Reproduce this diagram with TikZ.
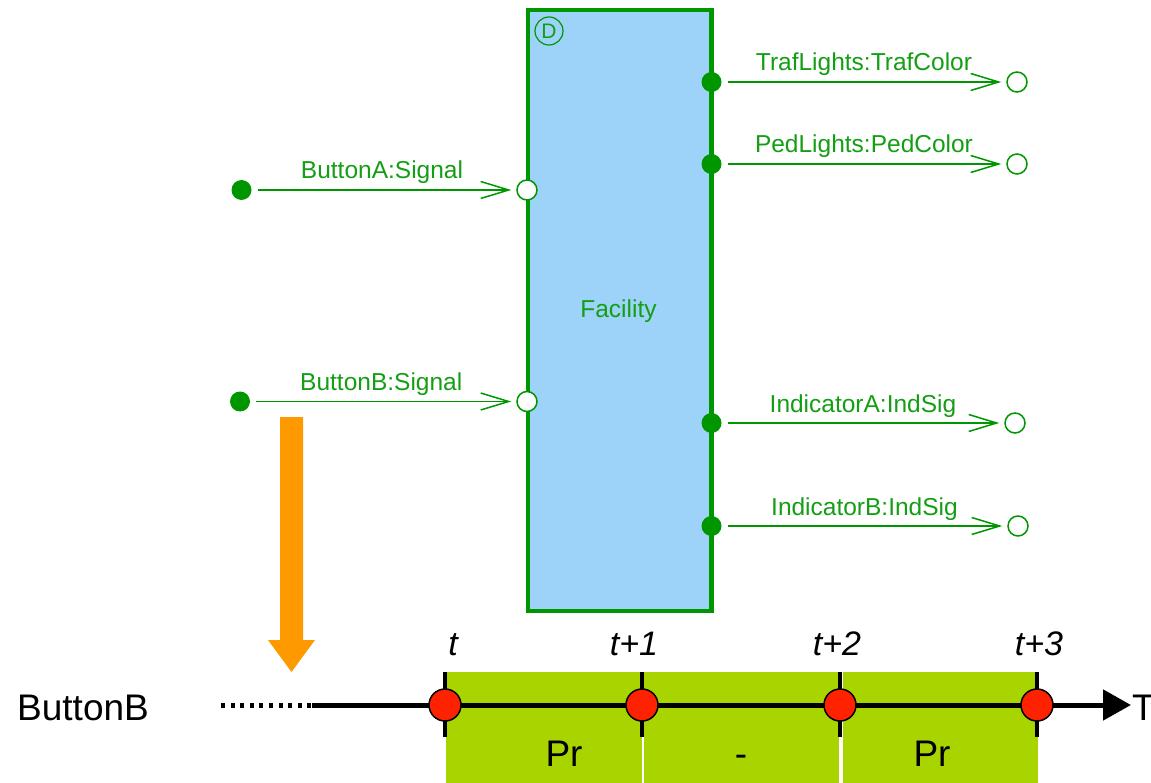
\documentclass[tikz,border=0pt]{standalone}
\usepackage{fontspec}
\setmainfont{Liberation Sans}
\usetikzlibrary{arrows.meta}
\definecolor{fgreen}{RGB}{0,150,0}
\definecolor{tgreen}{RGB}{20,158,20}
\definecolor{blockblue}{RGB}{157,211,249}
\definecolor{slotgreen}{RGB}{168,212,0}
\definecolor{markred}{RGB}{255,34,0}
\definecolor{pushorange}{RGB}{255,153,0}
\begin{document}
\begin{tikzpicture}[x=1pt,y=-1pt,
  port/.style={circle, draw=fgreen, line width=1.5pt, fill=white, minimum size=20pt, inner sep=0pt},
  pin/.style={circle, fill=fgreen, minimum size=20pt, inner sep=0pt},
  sig/.style={draw=fgreen, line width=1.5pt, -{Straight Barb[length=28pt,width=17pt]}, shorten <=6pt, shorten >=5pt},
  siglabel/.style={font=\fontsize{24.5}{27}\selectfont, text=tgreen, anchor=base, yshift=11pt, inner sep=0pt},
  bigtext/.style={font=\fontsize{37}{40}\selectfont, inner sep=0pt, anchor=base},
  ticklabel/.style={font=\fontsize{34}{38}\selectfont\itshape, inner sep=0pt, anchor=base},
  slot/.style={fill=slotgreen},
  tick/.style={line width=4.5pt},
  instant/.style={circle, draw=black, line width=1.5pt, fill=markred, minimum size=32pt, inner sep=0pt}
]
\useasboundingbox (0,0) rectangle (1151,783);

% Facility block
\node[draw=fgreen, line width=4.5pt, fill=blockblue, minimum width=183.5pt, minimum height=601pt,
      inner sep=0pt] (fac) at (619.75,310.5) {};
\node[text=tgreen, font=\fontsize{24.5}{27}\selectfont, inner sep=0pt] (facname) at (618.5,311) {Facility};
\node[circle, draw=fgreen, line width=1.2pt, minimum size=28pt, inner sep=0pt,
      text=tgreen, font=\fontsize{21}{22}\selectfont] (dmark) at (549,31) {D};

% Input ports and their sources
\node[pin] (srcA) at (241.5,190) {};
\node[pin] (srcB) at (240,401.5) {};
\node[port] (inA) at (527,190) {};
\node[port] (inB) at (527,401.5) {};
\draw[sig] (srcA) -- node[siglabel, xshift=-2pt] {ButtonA:Signal} (inA);
\draw[sig] (srcB) -- node[siglabel, xshift=-2pt] {ButtonB:Signal} (inB);

% Output ports and their sinks
\node[pin] (outA) at (711.5,82) {};
\node[pin] (outB) at (711.5,164) {};
\node[pin] (outC) at (711.5,423) {};
\node[pin] (outD) at (711.5,526) {};
\node[port] (sinkA) at (1017,82) {};
\node[port] (sinkB) at (1017,164) {};
\node[port] (sinkC) at (1015,423) {};
\node[port] (sinkD) at (1018,526) {};
\draw[sig] (outA) -- node[siglabel] {TrafLights:TrafColor} (sinkA);
\draw[sig] (outB) -- node[siglabel] {PedLights:PedColor} (sinkB);
\draw[sig] (outC) -- node[siglabel] {IndicatorA:IndSig} (sinkC);
\draw[sig] (outD) -- node[siglabel] {IndicatorB:IndSig} (sinkD);

% Push arrow towards the timeline
\fill[pushorange] (280,417) -- (303,417) -- (303,640) -- (315,640) -- (291.5,672)
  -- (268,640) -- (280,640) -- cycle;

% Time slots
\fill[slot] (446,672) rectangle (641.5,790);
\fill[slot] (644,672) rectangle (839,790);
\fill[slot] (843,672) rectangle (1037.5,790);

% Timeline
\coordinate (dotstart) at (221,705);
\coordinate (linestart) at (312,705);
\coordinate (lineend) at (1131,705);
\draw[line width=5pt, dash pattern=on 4pt off 5.6pt] (dotstart) -- (linestart);
\draw[line width=5pt, -{Triangle[length=28pt,width=30pt]}] (linestart) -- (lineend);

\foreach \n/\x in {0/445,1/642,2/840,3/1037}{
  \draw[tick] (\x,672) -- (\x,737);
  \node[instant] (p\n) at (\x,705) {};
}

% Labels
\node[bigtext, anchor=base west] (signame) at (17,720) {ButtonB};
\node[bigtext, anchor=base west] (axisname) at (1132,720) {T};
\node[ticklabel] (l0) at (453,655) {t};
\node[ticklabel] (l1) at (634,655) {t+1};
\node[ticklabel] (l2) at (837,655) {t+2};
\node[ticklabel] (l3) at (1039,655) {t+3};
\node[bigtext] (v0) at (564,766) {Pr};
\node[bigtext] (v1) at (741,766) {-};
\node[bigtext] (v2) at (932,766) {Pr};
\end{tikzpicture}
\end{document}
